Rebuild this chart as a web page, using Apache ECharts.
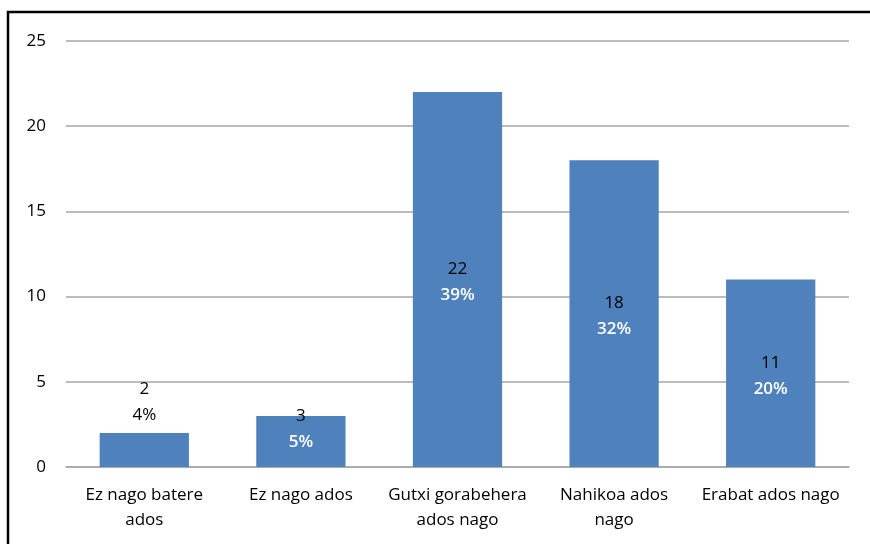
<!DOCTYPE html>
<html>
<head>
<meta charset="utf-8">
<script src="https://cdn.jsdelivr.net/npm/echarts@6/dist/echarts.min.js"></script>
<style>
html, body { margin: 0; padding: 0; background: #fff; }
#bar { width: 870px; height: 544px; }
</style>
</head>
<body>
<div id="bar"></div>
<script>
var categories = ['Ez nago batere\nados', 'Ez nago ados', 'Gutxi gorabehera\nados nago', 'Nahikoa ados\nnago', 'Erabat ados nago'];
var counts = [2, 3, 22, 18, 11];
var percents = [4, 5, 39, 32, 20];
var yTicks = [0, 5, 10, 15, 20, 25];

var font = '"Open Sans", sans-serif';

// etiketa: goian kopurua (beltza), behean ehunekoa (zuria barruan)
function labelFor(i) {
	var lab = { show: true, position: 'inside', offset: [0, 3] };
	if (i === 0) {
		lab = { show: true, position: 'top', distance: 5, rich: { p: { color: '#000', fontWeight: 'normal' } } };
	} else if (i === 1) {
		lab.offset = [0, -12];
	}
	return lab;
}

var barData = [];
for (var i = 0; i < counts.length; i++) {
	barData.push({ value: counts[i], label: labelFor(i) });
}

var option = {
	backgroundColor: '#fff',
	animation: false,
	graphic: [{
		type: 'rect',
		shape: { x: 8, y: 12, width: 900, height: 600 },
		style: { fill: 'none', stroke: '#000', lineWidth: 2.5 },
		silent: true
	}],
	grid: { left: 66, right: 21, top: 41, bottom: 77 },
	xAxis: {
		type: 'category',
		data: categories,
		axisLine: { lineStyle: { color: '#a6a6a6', width: 1.5 } },
		axisTick: { show: false },
		axisLabel: {
			color: '#000',
			fontFamily: font,
			fontSize: 17,
			lineHeight: 25,
			margin: 16,
			interval: 0
		}
	},
	yAxis: {
		type: 'value',
		min: yTicks[0],
		max: yTicks[yTicks.length - 1],
		interval: 5,
		axisLine: { show: false },
		axisTick: { show: false },
		axisLabel: { color: '#000', fontFamily: font, fontSize: 17, margin: 20 },
		splitLine: { lineStyle: { color: '#a6a6a6', width: 1.5 } }
	},
	series: [{
		type: 'bar',
		data: barData,
		barCategoryGap: '43%',
		itemStyle: { color: '#4f81bd' },
		label: {
			show: true,
			fontFamily: font,
			formatter: function (p) {
				return '{c|' + counts[p.dataIndex] + '}\n{p|' + percents[p.dataIndex] + '%}';
			},
			rich: {
				c: { color: '#000', fontSize: 17, fontFamily: font, lineHeight: 26 },
				p: { color: '#fff', fontSize: 17, fontFamily: font, fontWeight: 600, lineHeight: 26 }
			}
		}
	}]
};

var chart = echarts.init(document.getElementById('bar'));
chart.setOption(option);
</script>
</body>
</html>
